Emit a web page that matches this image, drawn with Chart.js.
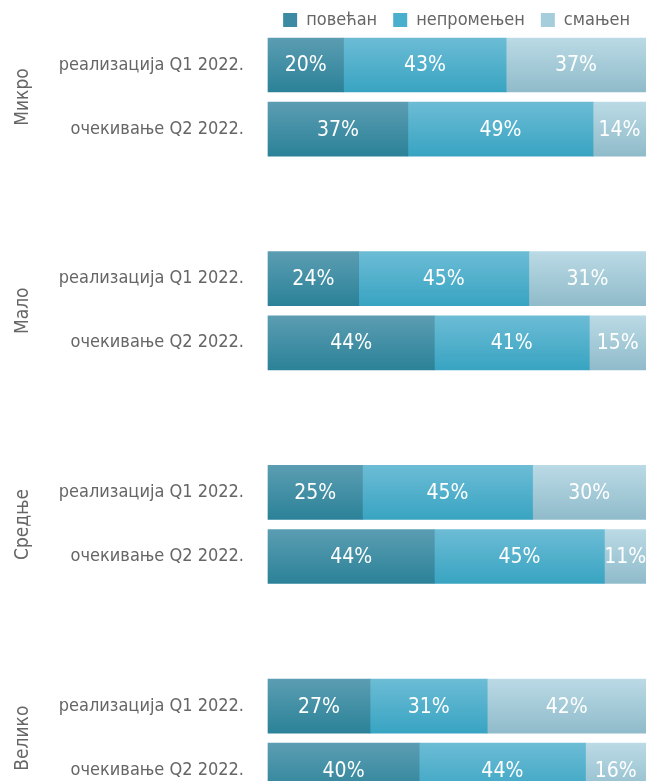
<!DOCTYPE html>
<html>
<head>
<meta charset="utf-8">
<script src="https://cdn.jsdelivr.net/npm/chart.js@4.4.0/dist/chart.umd.min.js"></script>
<style>
  html, body { margin: 0; padding: 0; background: #fff; }
  #wrap { width: 646px; height: 781px; }
</style>
</head>
<body>
<div id="wrap"><canvas id="graph"></canvas></div>
<script>
const groups = ['Микро', 'Мало', 'Средње', 'Велико']
const periods = ['реализација Q1 2022.', 'очекивање Q2 2022.']
const seriesNames = ['повећан', 'непромењен', 'смањен']
const increased = [20, 37, 24, 44, 25, 44, 27, 40]
const unchanged = [43, 49, 45, 41, 45, 45, 31, 44]
const decreased = [37, 14, 31, 15, 30, 11, 42, 16]

// top / bottom colour of the bar gradient for each series
const shades = [
  ['#5b9db2', '#2b8298'],
  ['#6cbcd5', '#38a4c2'],
  ['#badae5', '#90bbca']
]
const legendColors = ['#3b8ca3', '#48afcd', '#a6cddb']

const FONT = '"DejaVu Sans Condensed", "Liberation Sans Narrow", sans-serif'
const GREY = '#666666'
const BAR = 54

// category slots: Q1, two spacers, Q2, then spacers up to the next group
const SLOT_Q2 = 3, SLOTS_PER_GROUP = 10
const labels = []
const slotOf = []
groups.forEach(function(g, gi) {
  const n = gi === groups.length - 1 ? SLOT_Q2 + 1 : SLOTS_PER_GROUP
  for (let s = 0; s < n; s++) {
    labels.push(s === 0 ? periods[0] : s === SLOT_Q2 ? periods[1] : '')
  }
  slotOf.push(gi * SLOTS_PER_GROUP, gi * SLOTS_PER_GROUP + SLOT_Q2)
})
function toSlots(values) {
  const out = labels.map(function() { return null })
  values.forEach(function(v, i) { out[slotOf[i]] = v })
  return out
}

function gradientFor(k) {
  return function(ctx) {
    const chart = ctx.chart
    const y = chart.scales.y
    if (!y || ctx.type !== 'data') return legendColors[k]
    const py = y.getPixelForValue(ctx.dataIndex)
    if (!isFinite(py)) return legendColors[k]
    const g = chart.ctx.createLinearGradient(0, py - BAR / 2, 0, py + BAR / 2)
    g.addColorStop(0, shades[k][0])
    g.addColorStop(1, shades[k][1])
    return g
  }
}

const valueLabels = {
  id: 'valueLabels',
  afterDatasetsDraw(chart) {
    const c = chart.ctx
    c.save()
    c.font = '21px ' + FONT
    c.fillStyle = '#ffffff'
    c.textAlign = 'center'
    c.textBaseline = 'middle'
    chart.data.datasets.forEach(function(ds, di) {
      chart.getDatasetMeta(di).data.forEach(function(bar, i) {
        const v = ds.data[i]
        if (v == null) return
        c.fillText(v + '%', (bar.x + bar.base) / 2, bar.y + 1)
      })
    })
    c.restore()
  }
}

// rotated group names on the left
const groupLabels = {
  id: 'groupLabels',
  afterDraw(chart) {
    const c = chart.ctx, y = chart.scales.y
    groups.forEach(function(g, gi) {
      const mid = (y.getPixelForValue(slotOf[gi * 2]) + y.getPixelForValue(slotOf[gi * 2 + 1])) / 2
      c.save()
      c.font = '19px ' + FONT
      c.fillStyle = GREY
      c.textAlign = 'center'
      c.textBaseline = 'middle'
      c.translate(23, mid)
      c.rotate(-Math.PI / 2)
      c.fillText(g, 0, 0)
      c.restore()
    })
  }
}

document.addEventListener("DOMContentLoaded", function() {
  let context = document.querySelector("#graph").getContext('2d')
  new Chart(context, {
    type: 'bar',
    data: {
      labels: labels,
      datasets: [increased, unchanged, decreased].map(function(vals, k) {
        return {
          label: seriesNames[k],
          data: toSlots(vals),
          backgroundColor: gradientFor(k),
          barThickness: BAR,
          borderWidth: 0,
          clip: false
        }
      })
    },
    options: {
      indexAxis: 'y',
      responsive: true,
      maintainAspectRatio: false,
      animation: false,
      layout: { padding: { left: 0, right: 0, top: -5, bottom: 0 } },
      plugins: {
        legend: {
          position: 'top',
          align: 'end',
          labels: {
            boxWidth: 14,
            boxHeight: 14,
            padding: 16,
            color: GREY,
            font: { family: FONT, size: 18 },
            generateLabels: function(chart) {
              const items = Chart.defaults.plugins.legend.labels.generateLabels(chart)
              items.forEach(function(it, i) {
                it.fillStyle = legendColors[i]
                it.strokeStyle = legendColors[i]
                it.lineWidth = 0
              })
              return items
            }
          }
        },
        tooltip: { enabled: false }
      },
      scales: {
        x: {
          stacked: true,
          min: 0,
          max: 100,
          position: 'top',
          ticks: { display: false },
          grid: { display: false },
          border: { display: false },
          afterFit: function(s) { s.height = 26 }
        },
        y: {
          stacked: true,
          offset: false,
          grid: { display: true, color: 'rgba(0,0,0,0)', drawOnChartArea: false, drawTicks: true, tickLength: 24 },
          border: { display: false },
          ticks: {
            autoSkip: false,
            color: GREY,
            padding: 0,
            font: { family: FONT, size: 18 }
          },
          afterFit: function(s) { s.width = 268 }
        }
      }
    },
    plugins: [valueLabels, groupLabels]
  })
})
</script>
</body>
</html>
